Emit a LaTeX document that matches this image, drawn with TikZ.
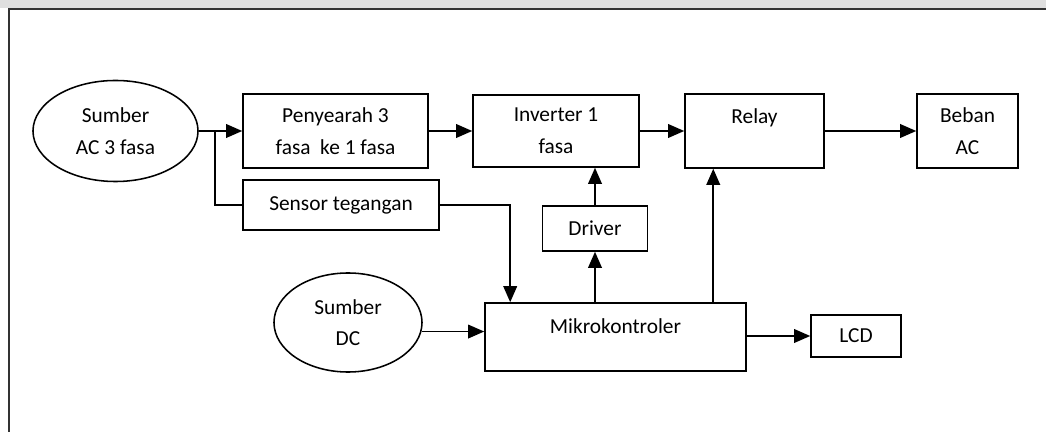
\documentclass[tikz,border=0pt]{standalone}
\usepackage{fontspec}
\setmainfont{Carlito}
\usetikzlibrary{arrows.meta}
\usetikzlibrary{calc}
\usetikzlibrary{shapes.geometric}

\begin{document}
\begin{tikzpicture}[x=0.025cm, y=-0.025cm,
    every node/.style={font=\fontsize{15.2}{22.5}\selectfont, align=center},
    blok/.style={rectangle, draw, line width=1.1pt, inner sep=0pt},
    sumber/.style={ellipse, draw, line width=1.1pt, inner sep=0pt},
    garis/.style={line width=1.1pt},
    panah/.style={garis, -{Triangle[length=4mm, width=3.4mm]}}]
      \useasboundingbox (0,0) rectangle (1046,432);
      \fill[gray!25] (0,0) rectangle (1046,8);
      \draw[line width=1.4pt, black!80] (9,432) -- (9,9) -- (1046,9);

      \node[sumber, minimum width=4.125cm, minimum height=2.525cm] (ac) at (115.5,131) {Sumber\\AC 3 fasa};
      \node[blok, minimum width=4.625cm, minimum height=1.85cm] (pen) at (335.5,131) {Penyearah 3\\fasa\ \ ke 1 fasa};
      \node[blok, minimum width=4.9cm, minimum height=1.25cm] (sen) at (341,205) {Sensor tegangan};
      \node[blok, minimum width=4.15cm, minimum height=1.8cm] (inv) at (556,131) {Inverter 1\\fasa};
      \node[blok, minimum width=3.475cm, minimum height=1.85cm, text depth=0.75cm] (rel) at (754.5,131) {Relay};
      \node[blok, minimum width=2.525cm, minimum height=1.85cm] (beb) at (967.5,131) {Beban\\AC};
      \node[blok, minimum width=2.625cm, minimum height=1.125cm] (drv) at (595,228.5) {Driver};
      \node[sumber, minimum width=3.7cm, minimum height=2.475cm] (dc) at (348,322.5) {Sumber\\DC};
      \node[blok, minimum width=6.525cm, minimum height=1.7cm, text depth=0.55cm] (mik) at (615.5,337) {Mikrokontroler};
      \node[blok, minimum width=2.25cm, minimum height=1.05cm] (lcd) at (856,336) {LCD};

      \coordinate (cabang) at (215,131);
      \coordinate (kemik) at ([xshift=0.65cm]mik.north west);
      \coordinate (kerelay) at ([xshift=5.725cm]mik.north west);

      \draw[panah] (ac) -- (pen);
      \draw[garis] (cabang) |- (sen);
      \draw[panah] (pen) -- (inv);
      \draw[panah] (inv) -- (rel);
      \draw[panah] (rel) -- (beb);
      \draw[panah] (sen) -| (kemik);
      \draw[panah] (drv) -- (drv |- inv.south);
      \draw[panah] (drv |- mik.north) -- (drv);
      \draw[panah] (kerelay) -- (kerelay |- rel.south);
      \draw[panah] (dc.-7) -- (dc.-7 -| mik.west);
      \draw[panah] (mik.east |- lcd) -- (lcd);
\end{tikzpicture}
\end{document}
